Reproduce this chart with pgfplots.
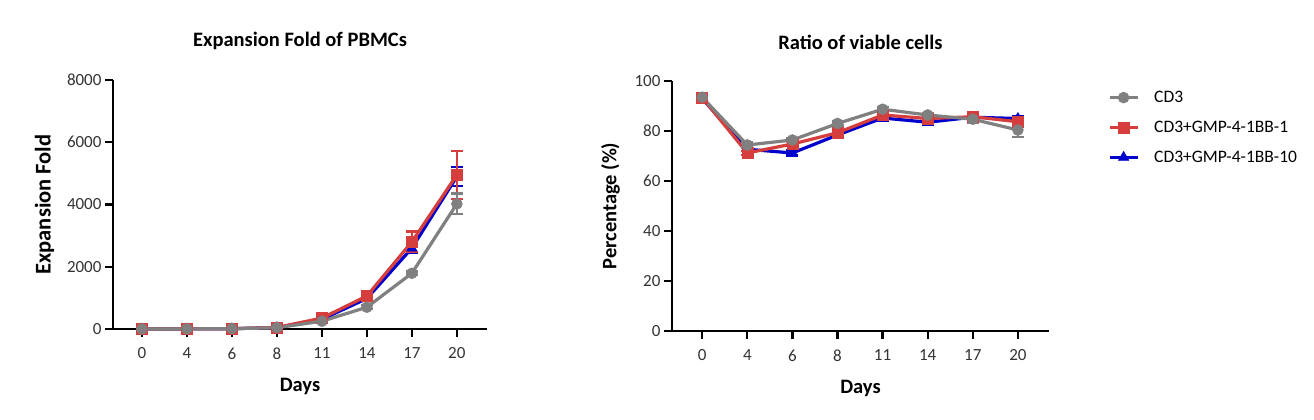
\documentclass[border=0pt]{standalone}
\usepackage{pgfplots}
\pgfplotsset{compat=1.18}
\usepackage{pgfplotstable}
\usepackage{fontspec}
\setmainfont{Carlito}

\definecolor{cdgray}{RGB}{128,128,128}
\definecolor{cdred}{RGB}{214,62,62}
\definecolor{cdblue}{RGB}{0,0,205}

% Expansion fold (mean and error) per time point; x = index of the day
\pgfplotstableread{
x  g     ge    r     re    b     be
0  1     0     1     0     1     0
1  3     0     3     0     3     0
2  10    0     12    0     10    0
3  40    0     50    0     45    0
4  250   30    350   40    310   30
5  700   60    1060  60    980   60
6  1790  60    2800  330   2600  150
7  4020  330   4950  780   4900  300
}\foldtable

% Ratio of viable cells (%)
\pgfplotstableread{
x  g     ge    r     re    b     be
0  93.5  0.5   93.3  0.5   93.0  0.5
1  74.4  1.0   71.2  0.8   72.7  0.8
2  76.4  0.8   74.8  0.8   71.2  1.0
3  83.0  0.8   79.3  1.0   78.4  0.8
4  88.7  0.8   86.4  0.8   85.2  1.0
5  86.4  0.8   85.0  0.8   83.5  1.0
6  84.7  1.5   85.7  0.8   85.5  0.8
7  80.4  2.8   83.7  1.0   85.0  1.0
}\viabletable

\pgfplotsset{
  panel/.style={
    scale only axis,
    axis x line=bottom, axis y line=left,
    axis line style={line width=2.3pt, -},
    every tick/.style={line width=2.3pt, black},
    tick align=outside,
    major tick length=8pt,
    xtick={0,...,7},
    xticklabels={0,4,6,8,11,14,17,20},
    tick label style={font=\fontsize{17}{19}\selectfont, text=black!80},
    xticklabel style={yshift=-7pt},
    /pgf/number format/assume math mode=true,
    label style={font=\bfseries\fontsize{20.5}{24}\selectfont},
    title style={font=\bfseries\fontsize{20.5}{24}\selectfont, at={(0.5,1)}, anchor=center, yshift=33pt},
    xlabel={Days},
    xlabel style={yshift=-12pt},
    clip=false,
  },
  series/.style={line width=3.2pt, mark options={solid, line width=0.5pt}, error bars/y dir=both, error bars/y explicit, error bars/error bar style={line width=2.3pt}, error bars/error mark options={rotate=90, mark size=6pt, line width=2.3pt}},
}

\begin{document}
\begin{tikzpicture}
\path[use as bounding box] (0pt,0pt) rectangle (1314pt,420pt);

\begin{axis}[panel,
  at={(113pt,91pt)}, anchor=south west,
  width=374pt, height=249pt,
  xmin=-0.644, xmax=7.67,
  ymin=0, ymax=8000,
  ytick={0,2000,4000,6000,8000},
  scaled y ticks=false,
  yticklabel style={/pgf/number format/.cd, fixed, 1000 sep={}},
  ylabel={Expansion Fold},
  ylabel style={font=\bfseries\fontsize{22.5}{26}\selectfont, yshift=6pt},
  title={Expansion Fold of PBMCs},
]
\addplot[series, color=cdblue, mark=triangle*, mark size=6pt] table[x=x, y=b, y error=be] {\foldtable};
\addplot[series, color=cdred, mark=square*, mark size=5.5pt] table[x=x, y=r, y error=re] {\foldtable};
\addplot[series, color=cdgray, mark=*, mark size=5.5pt] table[x=x, y=g, y error=ge] {\foldtable};
\end{axis}

\begin{axis}[panel,
  at={(672pt,89pt)}, anchor=south west,
  width=377pt, height=250pt,
  xmin=-0.67, xmax=7.69,
  ymin=0, ymax=100,
  ytick={0,20,40,60,80,100},
  ylabel={Percentage (\%)},
  ylabel style={yshift=8pt},
  title={Ratio of viable cells},
  reverse legend,
  legend cell align=left,
  legend style={draw=none, fill=none, at={(1.148,1.0)}, anchor=north west, yshift=-6pt,
    font=\fontsize{17.5}{20}\selectfont, row sep=13pt,
    /tikz/every odd column/.append style={column sep=13pt}},
  legend image code/.code={
    \draw[#1, line width=3.2pt] (0pt,0pt) -- (28pt,0pt);
    \draw[#1, mark repeat=2, mark phase=2] plot coordinates {(0pt,0pt) (14pt,0pt) (28pt,0pt)};
  },
]
\addplot[series, color=cdblue, mark=triangle*, mark size=6pt] table[x=x, y=b, y error=be] {\viabletable};
\addlegendentry{CD3+GMP-4-1BB-10}
\addplot[series, color=cdred, mark=square*, mark size=5.5pt] table[x=x, y=r, y error=re] {\viabletable};
\addlegendentry{CD3+GMP-4-1BB-1}
\addplot[series, color=cdgray, mark=*, mark size=5.5pt] table[x=x, y=g, y error=ge] {\viabletable};
\addlegendentry{CD3}
\end{axis}
\end{tikzpicture}
\end{document}
